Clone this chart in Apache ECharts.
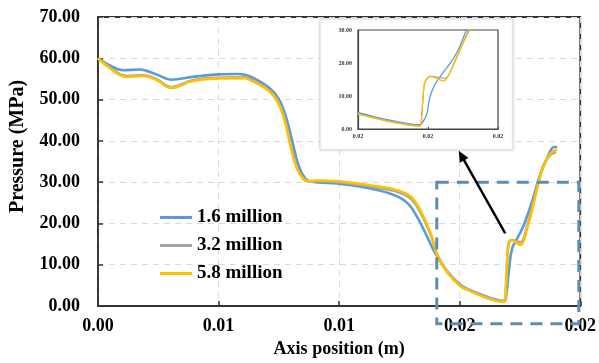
<!DOCTYPE html>
<html>
<head>
<meta charset="utf-8">
<script src="https://cdn.jsdelivr.net/npm/echarts@6/dist/echarts.min.js"></script>
<style>
html,body{margin:0;padding:0;background:#fff;}
#c{width:599px;height:363px;}
</style>
</head>
<body>
<div id="c"></div>
<script>
// ---------- data ----------
const seriesNames = ['1.6 million', '3.2 million', '5.8 million'];
const seriesColors = ['#5B9BD5', '#A5A5A5', '#FFC000'];

const xTickLabels = ['0.00', '0.01', '0.01', '0.02', '0.02'];
const yTickLabels = ['0.00', '10.00', '20.00', '30.00', '40.00', '50.00', '60.00', '70.00'];

const positionBlue = [0, 0.00049, 0.00104, 0.00173, 0.00242, 0.00304, 0.00393, 0.00503, 0.0058, 0.00626, 0.00709, 0.0075, 0.00778, 0.00805, 0.00832, 0.0086, 0.00881, 0.00915, 0.00997, 0.01134, 0.01231, 0.01286, 0.01327, 0.01368, 0.01402, 0.0145, 0.01505, 0.01533, 0.01615, 0.01684, 0.01694, 0.01705, 0.01718, 0.01739, 0.01766, 0.01808, 0.01828, 0.01862, 0.01892, 0.01904];
const pressureBlue = [60.0, 58.3, 57.1, 57.3, 56.1, 54.8, 55.5, 56.1, 56.2, 55.7, 52.9, 50.1, 46.1, 40.1, 34.0, 30.8, 30.2, 29.9, 29.6, 28.4, 26.8, 24.8, 21.2, 16.4, 12.4, 8.3, 5.0, 4.1, 2.2, 1.2, 3.0, 9.2, 14.0, 16.4, 19.6, 26.8, 30.8, 35.7, 38.5, 38.5];

const positionGray = [0, 0.00049, 0.00118, 0.00187, 0.00242, 0.00304, 0.00393, 0.00503, 0.00613, 0.00626, 0.00709, 0.0075, 0.00778, 0.00798, 0.00825, 0.00853, 0.00874, 0.00915, 0.00997, 0.01134, 0.01244, 0.01299, 0.0134, 0.01382, 0.01409, 0.0145, 0.01505, 0.01533, 0.01615, 0.01684, 0.01693, 0.01698, 0.01705, 0.01718, 0.01735, 0.01752, 0.0178, 0.01808, 0.01828, 0.01848, 0.01876, 0.019];
const pressureGray = [60.0, 57.8, 55.7, 55.9, 55.0, 53.0, 54.7, 55.3, 55.4, 55.1, 52.3, 49.2, 44.5, 39.3, 33.6, 30.7, 30.2, 30.2, 30.0, 28.9, 27.6, 25.9, 22.3, 16.9, 12.2, 8.1, 4.8, 4.0, 2.0, 1.1, 6.0, 12.0, 15.6, 16.0, 15.6, 15.4, 19.4, 25.8, 30.4, 34.2, 36.6, 37.3];

const positionYellow = [0, 0.00049, 0.00118, 0.00187, 0.00242, 0.00304, 0.00393, 0.00503, 0.00613, 0.00626, 0.00709, 0.0075, 0.00778, 0.00798, 0.00825, 0.00853, 0.00874, 0.00915, 0.00997, 0.01134, 0.01244, 0.01299, 0.0134, 0.01382, 0.01409, 0.0145, 0.01505, 0.01533, 0.01615, 0.01684, 0.01693, 0.01698, 0.01705, 0.01718, 0.01735, 0.01752, 0.0178, 0.01808, 0.01828, 0.01848, 0.01876, 0.01904];
const pressureYellow = [60.0, 57.6, 55.5, 55.7, 54.8, 52.8, 54.5, 55.1, 55.2, 54.9, 52.1, 48.9, 44.1, 38.9, 33.3, 30.7, 30.2, 30.4, 30.2, 29.2, 28.0, 26.4, 22.8, 17.2, 12.0, 8.0, 4.7, 3.9, 1.9, 1.0, 6.0, 12.0, 15.6, 16.0, 15.3, 14.8, 18.8, 25.2, 30.0, 34.0, 36.9, 37.9];

// inset (zoomed view)
const insetXTickLabels = ['0.02', '0.02', '0.02'];
const insetYTickLabels = ['0.00', '10.00', '20.00', '30.00'];
const insetPosBlue = [0.016, 0.0162, 0.0164, 0.0166, 0.01688, 0.01691, 0.01698, 0.017024, 0.017096, 0.01719, 0.017334, 0.01744, 0.017548, 0.0176];
const insetPresBlue = [5.0, 3.9, 2.9, 2.1, 1.3, 1.6, 4.3, 9.4, 13.4, 16.4, 20.4, 24.3, 30.0, 32.0];
const insetPosGray = [0.016, 0.0162, 0.0164, 0.0166, 0.01688, 0.0169, 0.016924, 0.016952, 0.017, 0.017048, 0.01712, 0.01725, 0.01732, 0.01744, 0.01758, 0.01763];
const insetPresGray = [4.7, 3.6, 2.6, 1.8, 1.0, 1.6, 8.0, 14.0, 15.6, 16.0, 15.7, 15.4, 17.5, 23.0, 30.0, 31.0];
const insetPosYellow = [0.016, 0.0162, 0.0164, 0.0166, 0.01688, 0.0169, 0.016924, 0.016952, 0.017, 0.017048, 0.01712, 0.017226, 0.0173, 0.0174, 0.0176, 0.01765];
const insetPresYellow = [4.5, 3.4, 2.4, 1.6, 0.8, 1.5, 8.0, 14.0, 15.6, 15.9, 15.3, 14.6, 16.5, 21.5, 30.0, 31.0];

// annotation anchors in data units (main axes)
const zoomBoxX = [0.01405, 0.01994];
const zoomBoxY = [-4.3, 30];
const arrowFrom = [0.01689, 17.6];
const arrowTo = [0.01496, 37.6];

// ---------- chart ----------
const FONT = 'Liberation Serif';
const zip = (xs, ys) => xs.map((x, i) => [x, ys[i]]);
const mainData = [zip(positionBlue, pressureBlue), zip(positionGray, pressureGray), zip(positionYellow, pressureYellow)];
const insetData = [zip(insetPosBlue, insetPresBlue), zip(insetPosGray, insetPresGray), zip(insetPosYellow, insetPresYellow)];

const chart = echarts.init(document.getElementById('c'), null, {renderer: 'canvas'});

const series = [];
seriesNames.forEach((name, i) => {
  series.push({
    name: name, type: 'line', xAxisIndex: 0, yAxisIndex: 0,
    data: mainData[i], symbol: 'none', smooth: 0.4, z: 2 + i,
    lineStyle: {color: seriesColors[i], width: 2.6}, itemStyle: {color: seriesColors[i]},
    emphasis: {disabled: true}
  });
});
seriesNames.forEach((name, i) => {
  series.push({
    name: name, type: 'line', xAxisIndex: 1, yAxisIndex: 1,
    data: insetData[i], symbol: 'none', smooth: 0.35, z: 6 + i,
    lineStyle: {color: seriesColors[i], width: 1.3}, itemStyle: {color: seriesColors[i]},
    emphasis: {disabled: true}, clip: true
  });
});

const option = {
  animation: false,
  backgroundColor: '#fff',
  grid: [
    {left: 98, right: 16, top: 17, bottom: 55, show: true, borderColor: '#333', borderWidth: 1.8, backgroundColor: 'transparent'},
    {left: 358, top: 30, width: 140, height: 99, show: true, borderColor: '#444', borderWidth: 1.2, backgroundColor: 'transparent', z: 5}
  ],
  legend: {
    data: seriesNames, orient: 'vertical', left: 155, top: 203, itemGap: 9,
    icon: 'rect', itemWidth: 32, itemHeight: 3,
    textStyle: {fontFamily: FONT, fontWeight: 'bold', fontSize: 19, color: '#000'},
    selectedMode: false
  },
  xAxis: [
    {
      type: 'value', gridIndex: 0, min: 0, max: 0.02, interval: 0.005,
      name: 'Axis position (m)', nameLocation: 'middle', nameGap: 34,
      nameTextStyle: {fontFamily: FONT, fontWeight: 'bold', fontSize: 18, color: '#000'},
      axisLine: {lineStyle: {color: '#333', width: 1.8}},
      axisTick: {show: true, inside: true, length: 5, lineStyle: {color: '#333', width: 1.5}},
      axisLabel: {
        margin: 11, fontFamily: FONT, fontWeight: 'bold', fontSize: 18, color: '#000',
        formatter: v => xTickLabels[Math.round(v / 0.005)]
      },
      splitLine: {show: true, lineStyle: {color: '#d9d9d9', type: [6, 5], width: 1}}
    },
    {
      type: 'value', gridIndex: 1, min: 0.016, max: 0.018, interval: 0.001, z: 5,
      axisLine: {lineStyle: {color: '#444', width: 1.2}},
      axisTick: {show: true, inside: true, length: 2, lineStyle: {color: '#444'}},
      axisLabel: {
        margin: 4, fontFamily: FONT, fontWeight: 'bold', fontSize: 6, color: '#333',
        formatter: v => insetXTickLabels[Math.round((v - 0.016) / 0.001)]
      },
      splitLine: {show: false}
    }
  ],
  yAxis: [
    {
      type: 'value', gridIndex: 0, min: 0, max: 70, interval: 10,
      name: 'Pressure (MPa)', nameLocation: 'middle', nameGap: 70,
      nameTextStyle: {fontFamily: FONT, fontWeight: 'bold', fontSize: 20, color: '#000', padding: [0, 0, 0, 30]},
      axisLine: {show: true, lineStyle: {color: '#333', width: 1.8}},
      axisTick: {show: true, inside: true, length: 5, lineStyle: {color: '#333', width: 1.5}},
      axisLabel: {
        margin: 18, fontFamily: FONT, fontWeight: 'bold', fontSize: 18, color: '#000',
        formatter: v => yTickLabels[Math.round(v / 10)]
      },
      splitLine: {show: true, lineStyle: {color: '#d9d9d9', type: [6, 5], width: 1}}
    },
    {
      type: 'value', gridIndex: 1, min: 0, max: 30, interval: 10, z: 5,
      axisLine: {show: true, lineStyle: {color: '#444', width: 1.2}},
      axisTick: {show: false},
      axisLabel: {
        margin: 6, fontFamily: FONT, fontWeight: 'bold', fontSize: 6, color: '#333',
        formatter: v => insetYTickLabels[Math.round(v / 10)]
      },
      splitLine: {show: false}
    }
  ],
  series: series
};
chart.setOption(option);

// annotations placed from data coordinates
const p0 = chart.convertToPixel({gridIndex: 0}, [zoomBoxX[0], zoomBoxY[1]]);
const p1 = chart.convertToPixel({gridIndex: 0}, [zoomBoxX[1], zoomBoxY[0]]);
const a0 = chart.convertToPixel({gridIndex: 0}, arrowFrom);
const a1 = chart.convertToPixel({gridIndex: 0}, arrowTo);
const ang = Math.atan2(a1[1] - a0[1], a1[0] - a0[0]);
const headLen = 11, headW = 5;
const bx = a1[0] - headLen * Math.cos(ang), by = a1[1] - headLen * Math.sin(ang);
const nx = -Math.sin(ang), ny = Math.cos(ang);

chart.setOption({
  graphic: [
    {
      type: 'rect', z: 1, silent: true,
      shape: {x: 320, y: 19, width: 193, height: 131},
      style: {fill: '#fff', stroke: '#d9d9d9', lineWidth: 1, shadowBlur: 3, shadowColor: 'rgba(0,0,0,0.12)'}
    },
    {
      type: 'rect', z: 10, silent: true,
      shape: {x: p0[0], y: p0[1], width: p1[0] - p0[0], height: p1[1] - p0[1]},
      style: {fill: 'none', stroke: '#5E8AB4', lineWidth: 3, lineDash: [12, 8]}
    },
    {
      type: 'line', z: 10, silent: true,
      shape: {x1: a0[0], y1: a0[1], x2: bx + 2 * Math.cos(ang), y2: by + 2 * Math.sin(ang)},
      style: {stroke: '#000', lineWidth: 2.4}
    },
    {
      type: 'polygon', z: 10, silent: true,
      shape: {points: [[a1[0], a1[1]], [bx + nx * headW, by + ny * headW], [bx - nx * headW, by - ny * headW]]},
      style: {fill: '#000'}
    }
  ]
});
</script>
</body>
</html>
